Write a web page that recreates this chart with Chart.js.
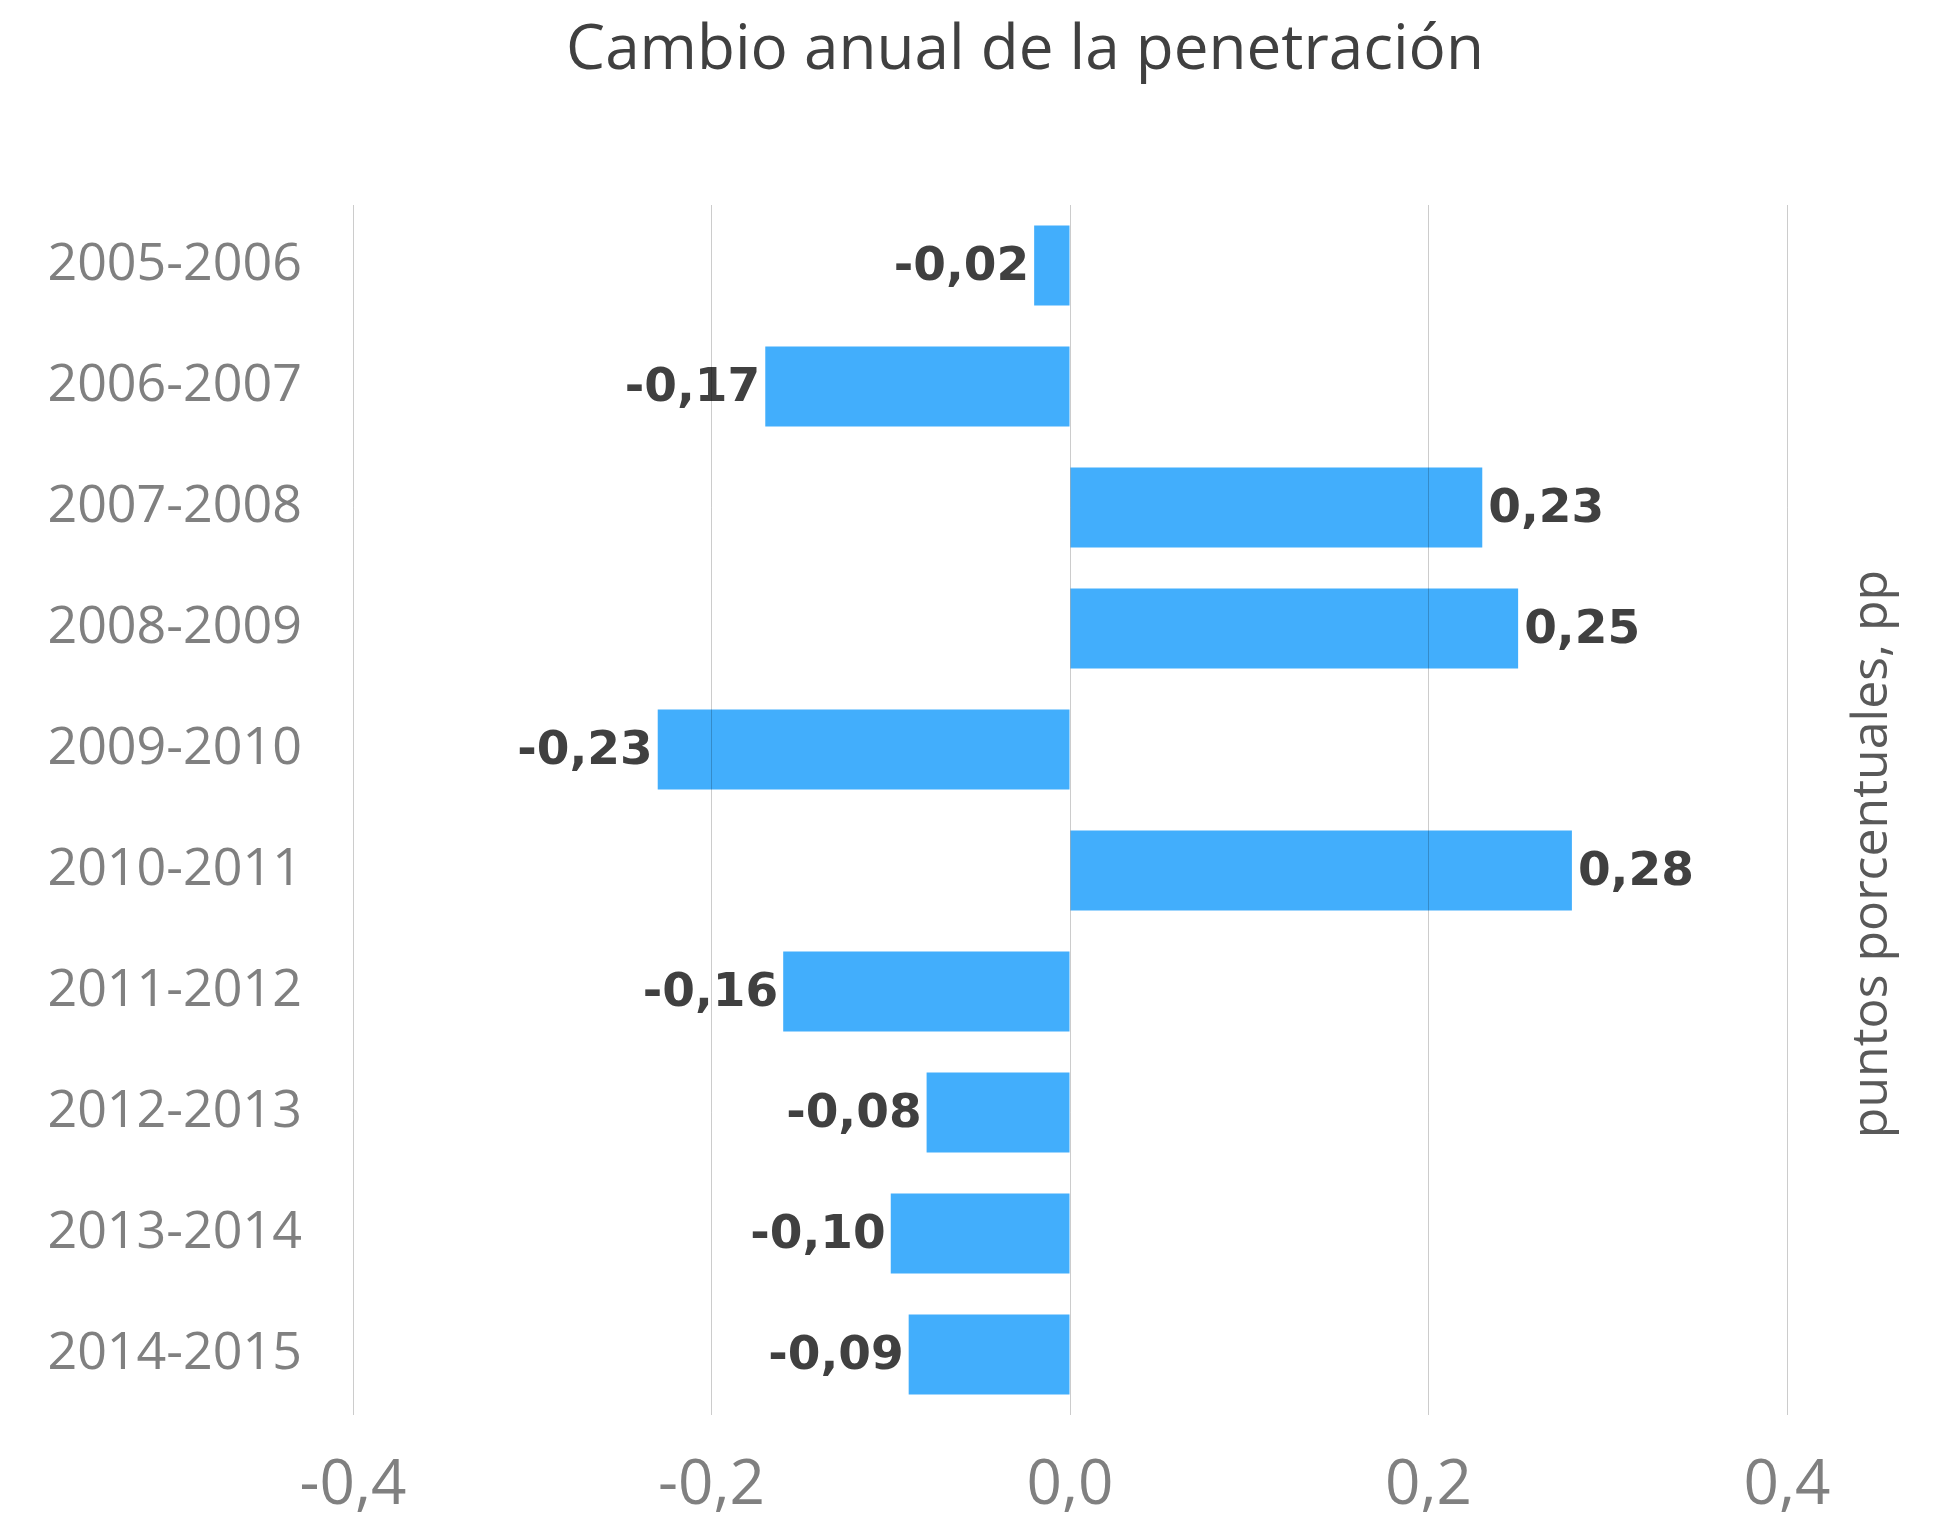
<!DOCTYPE html>
<html>
<head>
<meta charset="utf-8">
<script src="https://cdn.jsdelivr.net/npm/chart.js"></script>
<style>
  body { margin: 0; background: #fff; }
  #wrap { width: 1951px; height: 1523px; }
</style>
</head>
<body>
<div id="wrap"><canvas id="cambio_chart" width="1951" height="1523"></canvas></div>
<script>
const periodos = ["2005-2006", "2006-2007", "2007-2008", "2008-2009", "2009-2010",
  "2010-2011", "2011-2012", "2012-2013", "2013-2014", "2014-2015"];
const cambio = [-0.02, -0.17, 0.23, 0.25, -0.23, 0.28, -0.16, -0.08, -0.10, -0.09];
const xTicks = [-0.4, -0.2, 0.0, 0.2, 0.4];
const titulo = "Cambio anual de la penetración";
const unidad = "puntos porcentuales, pp";

const fmt = (v) => v.toFixed(2).replace(".", ",");

// value labels at the bar ends
const barLabels = {
  id: "barLabels",
  afterDatasetsDraw(chart) {
    const ctx = chart.ctx;
    const meta = chart.getDatasetMeta(0);
    ctx.save();
    ctx.font = "bold 47px 'DejaVu Sans'";
    ctx.fillStyle = "#404040";
    ctx.textBaseline = "middle";
    meta.data.forEach((bar, i) => {
      const v = cambio[i];
      if (v < 0) {
        ctx.textAlign = "right";
        ctx.fillText(fmt(v), bar.x - 5, bar.y + 2);
      } else {
        ctx.textAlign = "left";
        ctx.fillText(fmt(v), bar.x + 6, bar.y + 2);
      }
    });
    ctx.restore();
  },
};

// chart title (sits a bit left of the plot centre) and vertical unit title on the right
const titles = {
  id: "titles",
  afterDraw(chart) {
    const { ctx, chartArea } = chart;
    const midX = (chartArea.left + chartArea.right) / 2;
    const midY = (chartArea.top + chartArea.bottom) / 2;
    ctx.save();
    ctx.font = "62px 'Open Sans'";
    ctx.fillStyle = "#404040";
    ctx.textAlign = "center";
    ctx.textBaseline = "alphabetic";
    ctx.fillText(titulo, midX - 45, 69);

    ctx.translate(chartArea.right + 86, midY + 44);
    ctx.rotate(-Math.PI / 2);
    ctx.font = "50px 'Open Sans'";
    ctx.fillStyle = "#595959";
    ctx.textBaseline = "middle";
    ctx.fillText(unidad, 0, 0);
    ctx.restore();
  },
};

const config = {
  type: "bar",
  data: {
    labels: periodos,
    datasets: [
      {
        label: "cambio",
        data: cambio,
        backgroundColor: "#42AEFC",
        borderWidth: 0,
        barPercentage: 0.66,
        categoryPercentage: 1,
      },
    ],
  },
  options: {
    indexAxis: "y",
    responsive: false,
    animation: false,
    layout: { padding: { left: 0, right: 0, top: 205, bottom: 0 } },
    plugins: {
      legend: { display: false },
      tooltip: { enabled: false },
      title: { display: false },
    },
    scales: {
      x: {
        min: -0.4,
        max: 0.4,
        afterBuildTicks: (scale) => {
          scale.ticks = xTicks.map((v) => ({ value: v }));
        },
        afterFit: (scale) => {
          scale.height = 108;
        },
        grid: { color: "rgba(0,0,0,0.2)", lineWidth: 1, drawTicks: false, z: 1 },
        border: { display: false },
        ticks: {
          color: "#808080",
          padding: 34,
          font: { family: "'Open Sans'", size: 62 },
          callback: (v) => v.toFixed(1).replace(".", ","),
        },
      },
      y: {
        afterFit: (scale) => {
          scale.width = 353;
        },
        grid: { display: false, drawTicks: false },
        border: { display: false },
        ticks: {
          color: "#808080",
          padding: 51,
          font: { family: "'Open Sans'", size: 52 },
        },
      },
      // empty right-hand axis that only reserves room for the unit title
      yRight: {
        position: "right",
        afterFit: (scale) => {
          scale.width = 164;
        },
        grid: { display: false, drawTicks: false },
        border: { display: false },
        ticks: { display: false },
      },
    },
  },
  plugins: [barLabels, titles],
};

const cambio_chart = new Chart(document.getElementById("cambio_chart"), config);
</script>
</body>
</html>
